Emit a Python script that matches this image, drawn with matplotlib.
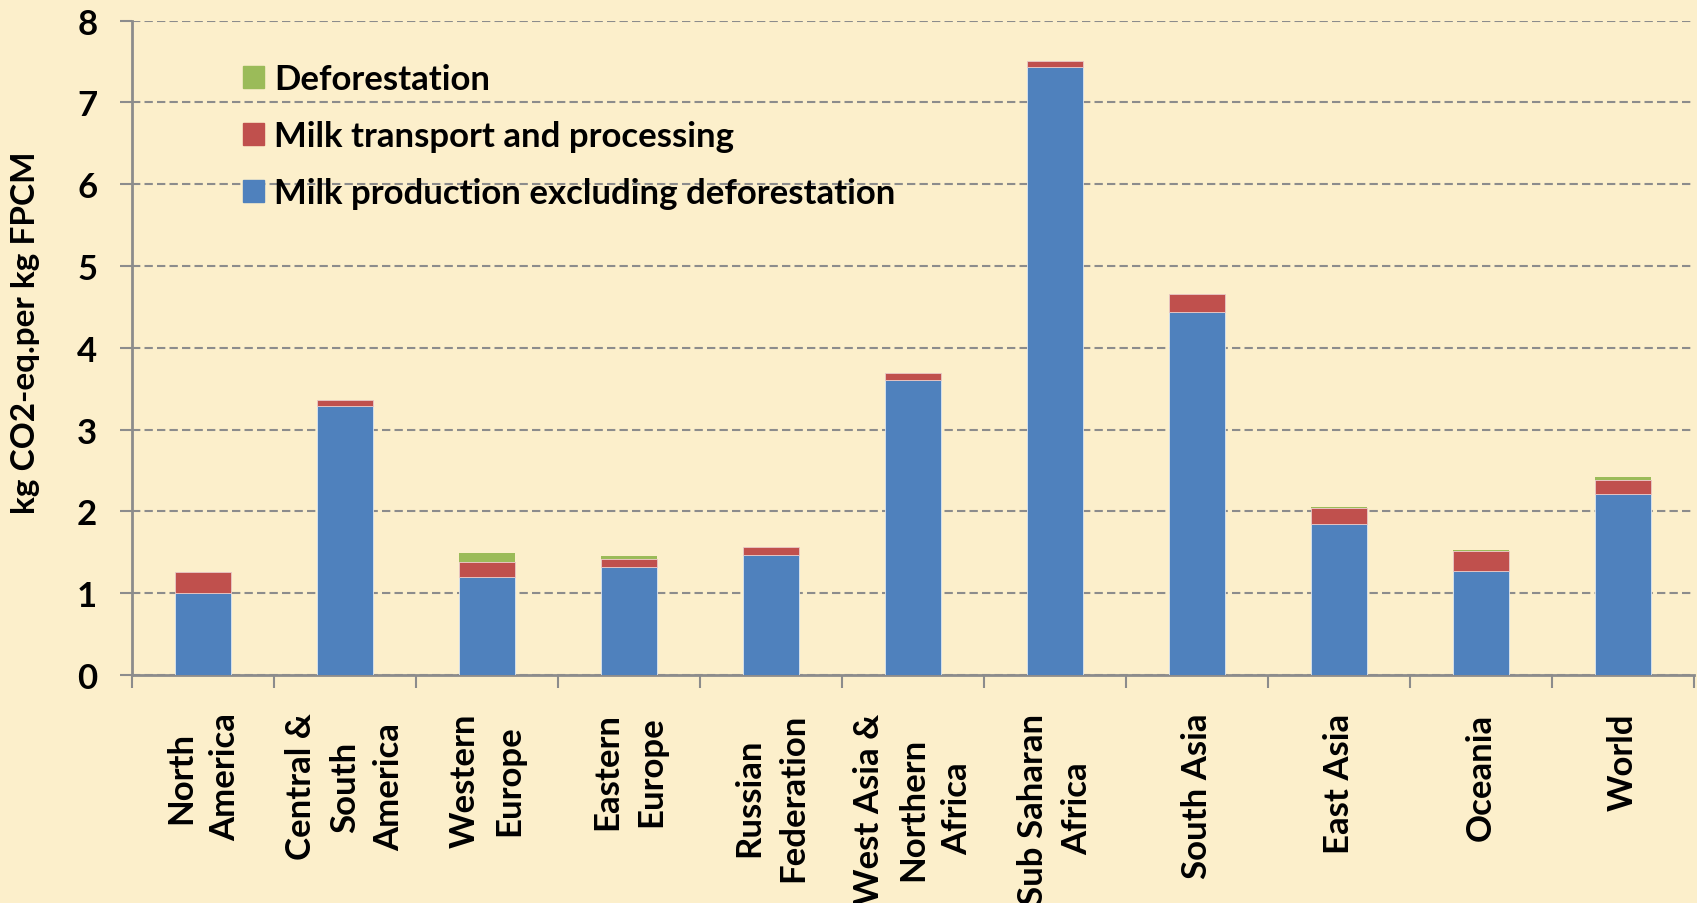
import numpy as np
import matplotlib
matplotlib.use("Agg")
import matplotlib.pyplot as plt
from matplotlib.patches import Patch

plt.rcParams['font.family'] = ['Lato', 'DejaVu Sans']
plt.rcParams['font.weight'] = 'bold'

# datos (kg CO2-eq por kg FPCM)
regiones = ["North\nAmerica", "Central &\nSouth\nAmerica", "Western\nEurope",
            "Eastern\nEurope", "Russian\nFederation", "West Asia &\nNorthern\nAfrica",
            "Sub Saharan\nAfrica", "South Asia", "East Asia", "Oceania", "World"]
produccion = [1.00, 3.29, 1.20, 1.32, 1.47, 3.61, 7.43, 4.44, 1.85, 1.27, 2.21]
transporte = [0.26, 0.07, 0.18, 0.10, 0.10, 0.08, 0.08, 0.22, 0.19, 0.25, 0.17]
deforestacion = [0.0, 0.0, 0.11, 0.03, 0.0, 0.0, 0.0, 0.0, 0.01, 0.01, 0.035]

fondo = '#FCEFCB'
azul, rojo, verde = '#4F81BD', '#C0504D', '#9BBB59'
gris = '#8C8C8C'

fig = plt.figure(figsize=(16.97, 9.04), dpi=100, facecolor=fondo)
ax = fig.add_axes([132/1697, 1-676/904, (1694-132)/1697, (676-21.6)/904])
ax.set_facecolor(fondo)

x = np.arange(len(regiones))
ancho = 0.4
prod = np.array(produccion)
trans = np.array(transporte)
defo = np.array(deforestacion)
ax.bar(x, prod, ancho, color=azul, edgecolor='#dde6f0', linewidth=0.6, zorder=3)
ax.bar(x, trans, ancho, bottom=prod, color=rojo, edgecolor='#e8c9c8', linewidth=0.6, zorder=3)
ax.bar(x, defo, ancho, bottom=prod + trans, color=verde, edgecolor='none', linewidth=0, zorder=3)

ax.set_xlim(-0.5, len(regiones) - 0.5)
ax.set_ylim(0, 8)
ax.set_yticks(range(9))
ax.set_yticklabels([str(i) for i in range(9)], fontsize=25, fontweight='bold')
ax.yaxis.grid(True, color=gris, linestyle=(0, (4, 2)), linewidth=1.5, zorder=0)

ax.set_xticks(x)
ax.set_xticklabels(regiones, rotation=90, fontsize=25, fontweight='bold',
                   ha='center', va='top', multialignment='center', linespacing=1.45)
ax.set_xticks(np.arange(-0.5, len(regiones)), minor=True)
ax.tick_params(axis='x', which='major', length=0, pad=27)
ax.tick_params(axis='x', which='minor', length=9, width=1.5, color=gris, direction='out')
ax.tick_params(axis='y', length=9, width=1.5, color=gris, pad=16)

for lado in ['top', 'right']:
    ax.spines[lado].set_visible(False)
for lado in ['left', 'bottom']:
    ax.spines[lado].set_color(gris)
    ax.spines[lado].set_linewidth(2)

ax.set_ylabel('kg CO2-eq.per kg FPCM', fontsize=24, fontweight='bold')
ax.yaxis.set_label_coords(-0.059, 0.524)

manijas = [Patch(color=verde, label='Deforestation'),
           Patch(color=rojo, label='Milk transport and processing'),
           Patch(color=azul, label='Milk production excluding deforestation')]
leg = ax.legend(handles=manijas, loc='upper left', bbox_to_anchor=(212/1697, 1-33/904),
                bbox_transform=fig.transFigure, frameon=False, fontsize=25,
                handlelength=0.6, handleheight=0.6, handletextpad=0.3, labelspacing=0.72)
for t in leg.get_texts():
    t.set_fontweight('bold')

fig.savefig('out.png', dpi=100, facecolor=fondo)
